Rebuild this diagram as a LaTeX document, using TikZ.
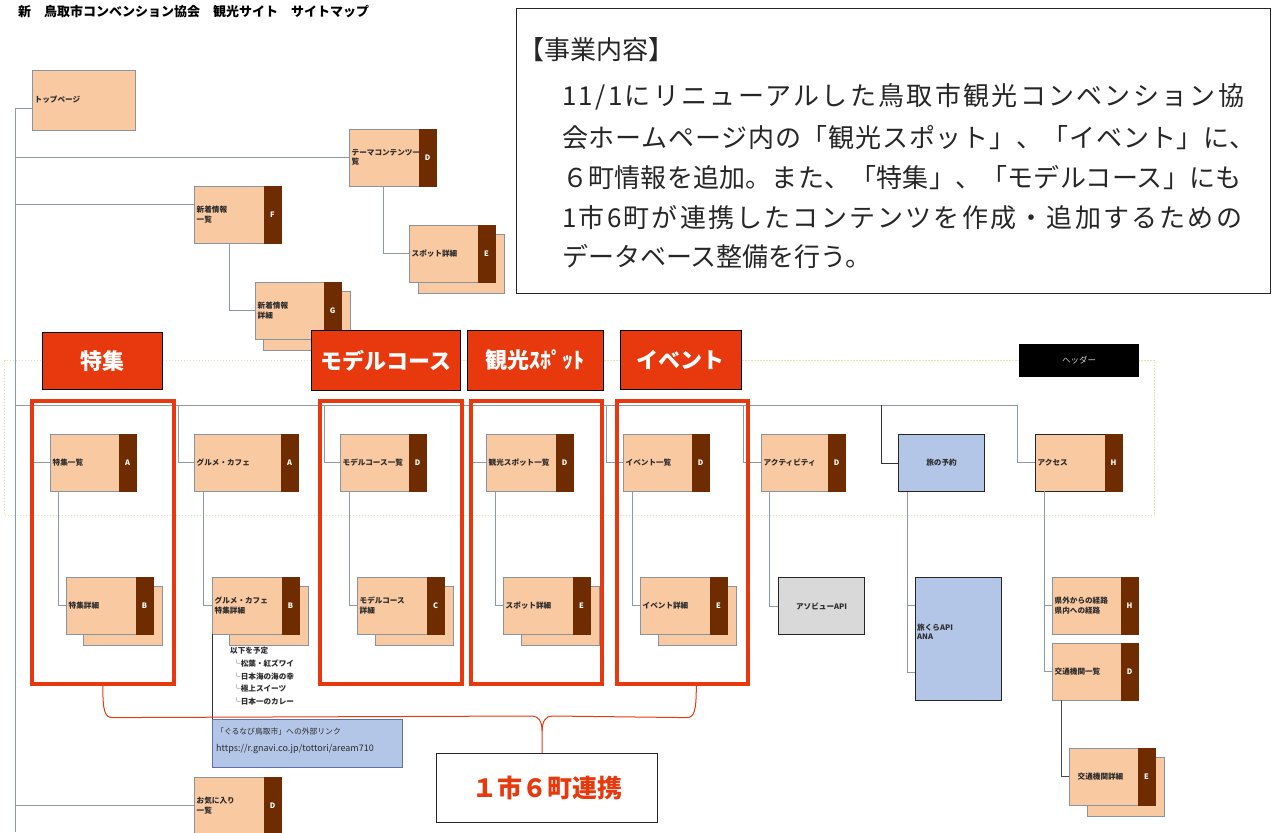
\documentclass[tikz,border=0pt]{standalone}
\usepackage{fontspec}
\setmainfont{Noto Sans CJK JP}
\usetikzlibrary{calc}
\definecolor{peach}{HTML}{F9C9A2}
\definecolor{brownc}{HTML}{6F2C00}
\definecolor{bordc}{HTML}{8A949E}
\definecolor{linec}{HTML}{8C99A6}
\definecolor{redc}{HTML}{E8380D}
\definecolor{bluec}{HTML}{B4C6E7}
\definecolor{grayc}{HTML}{D9D9D9}
\definecolor{txtc}{HTML}{2B2B2B}
\definecolor{dotc}{HTML}{E2E6A6}
\definecolor{linkbd}{HTML}{5A74A8}
\tikzset{
  pbox/.style={draw=bordc, fill=peach, line width=0.9pt, inner sep=0pt, outer sep=0pt, anchor=north west},
  pstrip/.style={fill=brownc, draw=brownc, line width=0.6pt, inner sep=0pt, outer sep=0pt, anchor=north east, minimum width=17, text=white, font=\bfseries\fontsize{7.5}{8}\selectfont},
  ptext/.style={anchor=west, align=left, inner sep=0pt, text=txtc, font=\bfseries\fontsize{7.6}{9.4}\selectfont},
  conn/.style={draw=linec, line width=0.9pt},
  redframe/.style={draw=redc, line width=3.6pt, inner sep=0pt, anchor=north west},
  redlabel/.style={fill=redc, draw=black, line width=0.8pt, anchor=north west, text=white, font=\bfseries\fontsize{22}{22}\selectfont, inner sep=0pt},
  bluebox/.style={fill=bluec, draw=black!85, line width=1.1pt, inner sep=0pt, anchor=north west, text=txtc, font=\bfseries\fontsize{7.6}{9.4}\selectfont},
  graybox/.style={fill=grayc, draw=black!85, line width=1.1pt, inner sep=0pt, anchor=north west, text=txtc, font=\bfseries\fontsize{7.6}{9.4}\selectfont},
  dtext/.style={anchor=base west, inner sep=0pt, text=black!85, font=\fontsize{26}{30}\selectfont},
}
\newcommand\pgb[8][]{%
  \node[pbox,#1, minimum width=#5, minimum height=#8] (#2) at (#3,#4) {};
  \node[pstrip, minimum height=#8] (#2-k) at (#2.north east) {#7};
  \node[ptext] (#2-t) at ([xshift=2.5pt]#2.west) {#6};
}
\newcommand\pgs[6]{%
  \node[pbox, minimum width=#4+9-#6, minimum height=#5+2] (#1) at (#2+#6,#3+9) {};
}
\begin{document}
\begin{tikzpicture}[x=1pt,y=-1pt]
\useasboundingbox (0,0) rectangle (1273,832);
% header zone
\node[draw=dotc, dash pattern=on 1.5pt off 1.5pt, line width=1pt, minimum width=1150, minimum height=155, anchor=north west, inner sep=0pt] (hz) at (4,360) {};
\node[fill=black, minimum width=120, minimum height=33, anchor=north west, inner sep=0pt, text=black!20, font=\fontsize{8.5}{9}\selectfont] (hd) at (1019,344) {ヘッダー};
% title
\node[anchor=base west, inner sep=0pt, text=black, font=\bfseries\fontsize{13}{13}\selectfont] (title) at (18,17) {新　鳥取市コンベンション協会　観光サイト　サイトマップ};
% top boxes
\node[pbox, minimum width=103, minimum height=60] (top) at (32,70) {};
\node[ptext] (top-t) at ([xshift=2.5pt]top.west) {トップページ};
\pgb{theme}{349}{129}{87}{テーマコンテンツ一\\覧}{D}{57}
\pgs{spot0-s}{409}{225}{86}{57}{9}
\pgb{spot0}{409}{225}{86}{スポット詳細}{E}{57}
\pgb{news}{194}{186}{87}{新着情報\\一覧}{F}{57}
\pgs{newsd-s}{255}{282}{86}{57}{8}
\pgb{newsd}{255}{282}{86}{新着情報\\詳細}{G}{57}
% level 2
\pgb{tk}{50}{434}{86}{特集一覧}{A}{57}
\pgb{gm}{194}{434}{104}{グルメ・カフェ}{A}{57}
\pgb{mc}{340}{434}{86}{モデルコース一覧}{D}{57}
\pgb{sp}{486}{434}{87}{観光スポット一覧}{D}{57}
\pgb{ev}{623}{434}{86}{イベント一覧}{D}{57}
\pgb{ac}{761}{434}{84}{アクティビティ}{D}{57}
\node[bluebox, minimum width=86, minimum height=57] (yo) at (898,434) {旅の予約};
\pgb[draw=black!85]{ax}{1035}{434}{87}{アクセス}{H}{57}
% level 3
\pgs{tkd-s}{66}{577}{87}{57}{17}
\pgb{tkd}{66}{577}{87}{特集詳細}{B}{57}
\pgs{gmd-s}{212}{577}{87}{57}{17}
\pgb{gmd}{212}{577}{87}{グルメ・カフェ\\特集詳細}{B}{57}
\pgs{mcd-s}{357}{577}{87}{57}{18}
\pgb{mcd}{357}{577}{87}{モデルコース\\詳細}{C}{57}
\pgs{spd-s}{503}{577}{87}{57}{18}
\pgb{spd}{503}{577}{87}{スポット詳細}{E}{57}
\pgs{evd-s}{640}{577}{87}{57}{18}
\pgb{evd}{640}{577}{87}{イベント詳細}{E}{57}
\node[graybox, minimum width=86, minimum height=57] (aso) at (778,577) {アソビューAPI};
\node[bluebox, minimum width=86, minimum height=123] (kura) at (915,577) {};
\node[ptext] (kura-t) at (917,632) {旅くらAPI\\ANA};
\pgb{ken}{1052}{577}{86}{県外からの経路\\県内への経路}{H}{57}
\pgb{ko}{1052}{643}{86}{交通機関一覧}{D}{57}
\pgs{kod-s}{1069}{748}{86}{57}{18}
\pgb{kod}{1069}{748}{86}{\hspace{6pt}交通機関詳細}{E}{57}
\pgb{fav}{194}{777}{87}{お気に入り\\一覧}{D}{57}
% notes and link
\node[anchor=north west, align=left, inner sep=0pt, text=txtc, font=\bfseries\fontsize{7.6}{12.7}\selectfont] (plan) at (230,647) {以下を予定\\\hspace{3pt}└松葉・紅ズワイ\\\hspace{3pt}└日本海の海の幸\\\hspace{3pt}└極上スイーツ\\\hspace{3pt}└日本一のカレー};
\node[fill=bluec, draw=linkbd, line width=1pt, minimum width=190, minimum height=48, anchor=north west, inner sep=0pt] (lk) at (212,719) {};
\node[anchor=west, inner sep=0pt, text=txtc, font=\fontsize{7.8}{9}\selectfont] (lk-1) at (216,732) {「ぐるなび鳥取市」への外部リンク};
\node[anchor=west, inner sep=0pt, text=txtc, font=\fontsize{9}{10}\selectfont] (lk-2) at (216,749) {https://r.gnavi.co.jp/tottori/aream710};
% connectors
\coordinate (mb) at (15,832);
\coordinate (bus) at (15,405);
\draw[conn] ([yshift=-8pt]top.west) -| (mb);
\draw[conn] (theme.west) -- (theme.west -| mb);
\coordinate (n1) at ([yshift=10pt]news.west);
\draw[conn] (n1) -- (n1 -| mb);
\draw[conn] (fav.west) -- (fav.west -| mb);
\draw[conn] ([xshift=34pt]theme.south west) |- (spot0.west);
\draw[conn] ([xshift=35pt]news.south west) |- (newsd.west);
\coordinate (tk-d) at ([xshift=-17pt]tk.west);
\coordinate (gm-d) at ([xshift=-16pt]gm.west);
\coordinate (mc-d) at ([xshift=-16pt]mc.west);
\coordinate (sp-d) at ([xshift=-16pt]sp.west);
\coordinate (ev-d) at ([xshift=-17pt]ev.west);
\coordinate (ac-d) at ([xshift=-18pt]ac.west);
\coordinate (yo-d) at ([xshift=-17pt]yo.west);
\coordinate (ax-d) at ([xshift=-18pt]ax.west);
\draw[conn] (bus) -- (ax-d |- bus);
\foreach \c in {tk,gm,mc,sp,ev,ac,ax}{\draw[conn] (\c-d |- bus) |- (\c.west);}
\draw[draw=black!80, line width=0.9pt] (yo-d |- bus) |- (yo.west);
\draw[conn] ([xshift=8pt]tk.south west) |- (tkd.west);
\draw[conn] ([xshift=9pt]gm.south west) |- (gmd.west);
\draw[conn] ([xshift=9pt]mc.south west) |- (mcd.west);
\draw[conn] ([xshift=9pt]sp.south west) |- (spd.west);
\draw[conn] ([xshift=9pt]ev.south west) |- (evd.west);
\draw[conn] ([xshift=8pt]ac.south west) |- (aso.west);
\coordinate (yv) at ([xshift=9pt]yo.south west);
\coordinate (k1) at ([yshift=33.5pt]kura.west);
\coordinate (k2) at ([yshift=-33.5pt]kura.west);
\draw[conn] (yv) |- (k2);
\draw[conn] (yv |- k1) -- (k1);
\coordinate (av) at ([xshift=9pt]ax.south west);
\draw[conn] (av) |- (ko.west);
\draw[conn] (av |- ken.west) -- (ken.west);
\draw[draw=black!70, line width=1pt] ([xshift=9pt]ko.south west) |- (kod.west);
\draw[draw=black!80, line width=1pt] (gmd.south west) -- (lk.north west);
% red labels
\node[redlabel, minimum width=120, minimum height=57] (l1) at (42,332) {特集};
\node[redlabel, minimum width=149, minimum height=60] (l2) at (311,330) {モデルコース};
\node[redlabel, minimum width=136, minimum height=60] (l3) at (467,330) {観光ｽﾎﾟｯﾄ};
\node[redlabel, minimum width=121, minimum height=59] (l4) at (620,330) {イベント};
% red frames
\node[redframe, minimum width=142, minimum height=283] (r1) at (30,399) {};
\node[redframe, minimum width=142, minimum height=283] (r2) at (318,399) {};
\node[redframe, minimum width=131, minimum height=283] (r3) at (469,399) {};
\node[redframe, minimum width=131, minimum height=283] (r4) at (615,399) {};
% renkei
\node[draw=black!85, line width=1.2pt, fill=white, minimum width=221, minimum height=69, anchor=north west, inner sep=0pt, text=redc, font=\bfseries\fontsize{25}{25}\selectfont] (renkei) at (436,753) {１市６町連携};
\coordinate (bL) at (r1.south);
\coordinate (bR) at ([xshift=14pt]r4.south);
\coordinate (bC) at ([xshift=-5pt]renkei.north);
\draw[draw=redc, line width=1pt] (bL) .. controls ($(bL)+(0,26)$) and ($(bL)+(2,32)$) .. ($(bL)+(10,32)$) -- ($(bC)+(-10,-37)$) .. controls ($(bC)+(-4,-37)$) and ($(bC)+(0,-32)$) .. ($(bC)+(0,-22)$) -- (bC);
\draw[draw=redc, line width=1pt] (bR) .. controls ($(bR)+(0,26)$) and ($(bR)+(-2,32)$) .. ($(bR)+(-10,32)$) -- ($(bC)+(10,-37)$) .. controls ($(bC)+(4,-37)$) and ($(bC)+(0,-32)$) .. ($(bC)+(0,-22)$);
% description box
\node[draw=black!85, line width=1pt, fill=white, minimum width=754, minimum height=285, anchor=north west, inner sep=0pt] (desc) at (516,8) {};
\node[dtext] (d0) at (518,60) {【事業内容】};
\node[dtext] (d1) at (562,106) {\addfontfeature{LetterSpace=8.9}11/1にリニューアルした鳥取市観光コンベンション協};
\node[dtext] (d2) at (562,147) {\addfontfeature{LetterSpace=3}会ホームページ内の「観光スポット」、「イベント」に、};
\node[dtext] (d3) at (562,187) {\addfontfeature{LetterSpace=0.8}６町情報を追加。また、「特集」、「モデルコース」にも};
\node[dtext] (d4) at (562,227) {\addfontfeature{LetterSpace=8.5}1市6町が連携したコンテンツを作成・追加するための};
\node[dtext] (d5) at (562,266) {データベース整備を行う。};
\end{tikzpicture}
\end{document}
